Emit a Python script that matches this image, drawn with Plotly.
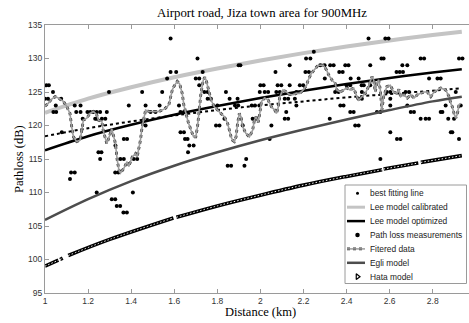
import plotly.graph_objects as go

# ---------------- data ----------------
model_d = [1.0, 1.2, 1.4, 1.6, 1.8, 2.0, 2.2, 2.4, 2.6, 2.8, 2.935]
best_fit_db = [118.4, 119.6, 120.6, 121.5, 122.3, 123.0, 123.6, 124.2, 124.7, 125.2, 125.55]
lee_cal_db = [121.9, 124.0, 125.7, 127.2, 128.5, 129.7, 130.8, 131.8, 132.7, 133.5, 134.0]
lee_opt_db = [116.3, 118.4, 120.1, 121.6, 122.9, 124.1, 125.2, 126.2, 127.1, 127.9, 128.4]
egli_db = [105.9, 109.0, 111.7, 114.0, 116.0, 117.8, 119.4, 120.9, 122.3, 123.6, 124.3]

hata_d = [1.0, 1.062, None, 1.07, 1.082, None, 1.108, 1.3, 1.596, None, 1.61, 1.8, 2.0,
          2.2, 2.4, 2.565, None, 2.572, 2.733, None, 2.745, 2.935]
hata_db = [99.0, 99.9, None, 100.0, 100.2, None, 100.6, 103.0, 106.2, None, 106.3, 108.0, 109.6,
           111.1, 112.4, 113.4, None, 113.5, 114.4, None, 114.5, 115.5]

meas_d = [1.006, 1.018, 1.0, 1.014, 1.037, 1.05, 1.039, 1.052, 1.075, 1.078, 1.116, 1.121, 1.138,
          1.138, 1.165, 1.145, 1.165, 1.175, 1.197, 1.21, 1.225, 1.24, 1.233, 1.24, 1.256, 1.264,
          1.28, 1.287, 1.297, 1.248, 1.262, 1.256, 1.24, 1.31, 1.326, 1.333, 1.349, 1.364, 1.38,
          1.408, 1.326, 1.341, 1.35, 1.366, 1.412, 1.428, 1.366, 1.381, 1.327, 1.389, 1.451,
          1.467, 1.467, 1.49, 1.513, 1.532, 1.544, 1.567, 1.583, 1.609, 1.583, 1.622, 1.629,
          1.645, 1.629, 1.645, 1.65, 1.662, 1.67, 1.69, 1.664, 1.708, 1.732, 1.70, 1.716, 1.716,
          1.74, 1.755, 1.755, 1.77, 1.80, 1.794, 1.81, 1.833, 1.84, 1.857, 1.882, 1.897, 1.894,
          1.899, 1.907, 1.918, 1.848, 1.864, 1.926, 1.934, 1.96, 1.975, 1.995, 1.964, 1.98,
          1.997, 2.02, 2.036, 2.0, 2.015, 2.043, 2.051, 2.07, 2.08, 2.097, 2.074, 2.09, 2.113,
          2.113, 2.129, 2.12, 2.129, 2.16, 2.136, 2.136, 2.167, 2.167, 2.183, 2.199, 2.212,
          2.232, 2.209, 2.225, 2.248, 2.278, 2.298, 2.324, 2.34, 2.299, 2.322, 2.347, 2.363,
          2.366, 2.382, 2.371, 2.386, 2.394, 2.409, 2.40, 2.417, 2.419, 2.417, 2.433, 2.44,
          2.456, 2.456, 2.456, 2.471, 2.47, 2.48, 2.471, 2.502, 2.51, 2.51, 2.541, 2.557, 2.557,
          2.562, 2.572, 2.58, 2.595, 2.587, 2.603, 2.603, 2.603, 2.603, 2.634, 2.65, 2.632,
          2.647, 2.662, 2.659, 2.682, 2.674, 2.69, 2.682, 2.698, 2.713, 2.744, 2.76, 2.744,
          2.767, 2.783, 2.783, 2.822, 2.837, 2.837, 2.845, 2.86, 2.872, 2.884, 2.891, 2.899,
          2.907, 2.922, 2.922, 2.938, 2.93]
meas_db = [126, 126, 124, 124, 125, 123, 122, 122, 124, 119, 112, 113, 113,
           123, 123, 122, 122, 121, 122, 122, 122, 122, 121, 121, 122, 121,
           121, 122, 125, 116, 116, 115, 110, 109, 109, 108, 108, 107, 107,
           110, 113, 113, 115, 115, 115, 115, 118, 118, 117, 123, 125,
           123, 120, 122, 122, 123, 125, 127, 128, 128, 133, 123, 122,
           122, 119, 119, 118, 118, 117, 117, 116, 130, 128, 127, 127, 126,
           125, 125, 124, 124, 123, 120, 120, 121, 125, 124, 123, 123, 124,
           129, 129, 120, 114, 114, 114, 115, 123, 123, 123, 121, 121,
           125, 125, 125, 126, 126, 118, 120, 128, 126, 126, 125, 125, 124,
           121, 121, 122, 124, 124, 129, 126, 125, 123, 126, 126, 130,
           130, 128, 128, 131, 129, 129, 129, 129, 127, 121, 125, 125,
           128, 128, 123, 123, 129, 129, 126, 126, 127, 122, 122, 120,
           120, 127, 124, 124, 126, 126, 125, 133, 129, 126, 122, 122, 115,
           130, 130, 133, 133, 125, 125, 124, 123, 119, 118, 118, 128,
           128, 128, 129, 129, 125, 125, 123, 122, 122, 130, 130, 121,
           121, 121, 127, 127, 127, 122, 122, 123, 121, 119, 119, 121,
           125, 118, 130, 130, 123]

filt_d = [1.0, 1.012, 1.03, 1.047, 1.062, 1.085, 1.10, 1.116, 1.124, 1.132, 1.147, 1.163, 1.171,
          1.178, 1.194, 1.209, 1.225, 1.24, 1.248, 1.264, 1.27, 1.28, 1.287, 1.30, 1.31, 1.318,
          1.327, 1.335, 1.343, 1.35, 1.366, 1.381, 1.389, 1.405, 1.42, 1.428, 1.443, 1.451, 1.459,
          1.467, 1.482, 1.505, 1.529, 1.544, 1.56, 1.575, 1.583, 1.591, 1.598, 1.614, 1.625,
          1.637, 1.645, 1.655, 1.665, 1.678, 1.69, 1.70, 1.708, 1.716, 1.724, 1.735, 1.742,
          1.748, 1.755, 1.763, 1.771, 1.786, 1.80, 1.817, 1.833, 1.848, 1.864, 1.871, 1.879,
          1.887, 1.894, 1.902, 1.91, 1.918, 1.933, 1.949, 1.964, 1.972, 1.98, 1.99, 1.997, 2.005,
          2.02, 2.036, 2.051, 2.067, 2.074, 2.082, 2.09, 2.105, 2.121, 2.136, 2.152, 2.167, 2.183,
          2.199, 2.214, 2.222, 2.237, 2.253, 2.268, 2.292, 2.307, 2.316, 2.332, 2.347, 2.355,
          2.371, 2.386, 2.401, 2.417, 2.433, 2.448, 2.456, 2.471, 2.487, 2.502, 2.518, 2.526,
          2.533, 2.541, 2.549, 2.557, 2.564, 2.572, 2.587, 2.603, 2.619, 2.634, 2.643, 2.651,
          2.667, 2.682, 2.698, 2.713, 2.729, 2.744, 2.76, 2.775, 2.791, 2.806, 2.822, 2.837,
          2.86, 2.876, 2.884, 2.891, 2.899, 2.907, 2.915, 2.922, 2.93]
filt_db = [122.9, 123.2, 123.9, 124.3, 124.1, 123.6, 122.9, 121.8, 119.8, 118.3, 117.6, 117.8, 119.3,
           120.8, 121.1, 121.8, 122.1, 121.6, 120.8, 120.6, 119.3, 118.3, 117.3, 118.5, 119.5, 118.5,
           117.3, 114.9, 113.4, 112.9, 113.6, 114.6, 113.9, 115.3, 115.8, 115.3, 117.8, 119.8, 121.3,
           122.3, 122.1, 122.1, 122.1, 122.3, 122.6, 123.1, 124.3, 125.3, 125.8, 126.6, 126.2,
           124.8, 123.0, 121.5, 120.5, 119.3, 118.3, 118.3, 119.8, 122.3, 124.8, 126.8, 127.2,
           126.8, 125.8, 124.8, 123.8, 122.8, 122.3, 121.8, 121.3, 120.3, 118.3, 117.8, 117.6,
           118.3, 120.3, 121.8, 121.3, 119.8, 118.8, 118.3, 119.3, 120.8, 121.3, 120.5, 121.8, 123.6,
           124.1, 123.8, 122.8, 122.3, 121.8, 122.6, 124.3, 125.3, 125.0, 124.6, 124.6, 124.8, 124.8,
           125.3, 126.0, 126.8, 127.8, 128.5, 129.0, 129.0, 128.3, 127.6, 126.8, 126.3, 125.3,
           125.0, 125.3, 125.6, 125.3, 125.6, 124.3, 123.8, 124.3, 124.8, 125.8, 127.3, 126.8,
           125.0, 126.3, 126.8, 125.3, 122.3, 124.3, 125.8, 126.0, 125.0, 124.8, 125.4, 124.3,
           124.6, 124.1, 124.6, 124.1, 124.6, 124.8, 125.0, 125.0, 124.3, 125.0, 125.3, 125.6,
           125.3, 124.3, 123.3, 122.8, 121.8, 121.1, 121.8, 123.1, 123.3]

x_ticks = [1, 1.2, 1.4, 1.6, 1.8, 2, 2.2, 2.4, 2.6, 2.8]
x_tick_labels = ["1", "1.2", "1.4", "1.6", "1.8", "2", "2.2", "2.4", "2.6", "2.8"]
y_ticks = [95, 100, 105, 110, 115, 120, 125, 130, 135]
legend_labels = ["best fitting line", "Lee model calibrated", "Lee model optimized",
                 "Path loss measurements", "Fitered data", "Egli model", "Hata model"]

title_text = "Airport road, Jiza town area for 900MHz"
x_title = "Distance (km)"
y_title = "Pathloss (dB)"

# ---------------- figure ----------------
W, H = 469, 323
L, R, T, B = 45, 0, 25, 30
SERIF = "Liberation Serif, Times New Roman, serif"
SANS = "Liberation Sans, Arial, sans-serif"

fig = go.Figure()

fig.add_trace(go.Scatter(x=model_d, y=best_fit_db, mode="lines", line_shape="spline",
                         line=dict(color="black", width=2, dash="dot"), showlegend=False))
fig.add_trace(go.Scatter(x=model_d, y=lee_cal_db, mode="lines", line_shape="spline",
                         line=dict(color="#c4c4c4", width=4), showlegend=False))
fig.add_trace(go.Scatter(x=model_d, y=lee_opt_db, mode="lines", line_shape="spline",
                         line=dict(color="black", width=2.5), showlegend=False))
fig.add_trace(go.Scatter(x=meas_d, y=meas_db, mode="markers",
                         marker=dict(color="black", size=4, line=dict(width=0)), showlegend=False))
fig.add_trace(go.Scatter(x=filt_d, y=filt_db, mode="lines",
                         line=dict(color="#333333", width=2.8, dash="dot"), showlegend=False))
fig.add_trace(go.Scatter(x=filt_d, y=filt_db, mode="lines",
                         line=dict(color="#9c9c9c", width=1.6), showlegend=False))
fig.add_trace(go.Scatter(x=model_d, y=egli_db, mode="lines", line_shape="spline",
                         line=dict(color="#4d4d4d", width=2.5), showlegend=False))
fig.add_trace(go.Scatter(x=hata_d, y=hata_db, mode="lines", line_shape="spline",
                         line=dict(color="black", width=3.6), showlegend=False))
fig.add_trace(go.Scatter(x=hata_d, y=hata_db, mode="lines", line_shape="spline",
                         line=dict(color="white", width=1, dash="1.5px,2px"), showlegend=False))

# ------------- legend drawn on a pixel overlay axis -------------
def px2(xs, ys, **kw):
    fig.add_trace(go.Scatter(x=xs, y=ys, xaxis="x2", yaxis="y2", showlegend=False,
                             hoverinfo="skip", **kw))

bx0, bx1, by0, by1 = 345, 466.5, 185, 283.5
px2([bx0, bx1, bx1, bx0, bx0], [by0, by0, by1, by1, by0], mode="lines", fill="toself",
    fillcolor="white", line=dict(color="#9a9a9a", width=1))
rows = [193.3 + 13.9 * i for i in range(7)]
sx0, sx1, sxc = 347, 365, 357.5
px2([sxc], [rows[0]], mode="markers", marker=dict(color="black", size=3))
px2([sx0, sx1], [rows[1]] * 2, mode="lines", line=dict(color="#c4c4c4", width=3))
px2([sx0, sx1], [rows[2]] * 2, mode="lines", line=dict(color="black", width=2.5))
px2([sxc], [rows[3]], mode="markers", marker=dict(color="black", size=4.5))
px2([sx0, sx1], [rows[4]] * 2, mode="lines", line=dict(color="#333333", width=2.8, dash="dot"))
px2([sx0, sx1], [rows[4]] * 2, mode="lines", line=dict(color="#9c9c9c", width=1.5))
px2([sx0, sx1], [rows[5]] * 2, mode="lines", line=dict(color="#4d4d4d", width=2.5))
px2([sxc], [rows[6]], mode="markers",
    marker=dict(color="black", size=5, symbol="triangle-right-open", line=dict(width=1.2)))

annotations = []
for lab, yy in zip(legend_labels, rows):
    annotations.append(dict(x=368, y=yy, xref="x2", yref="y2", text=lab, showarrow=False,
                            xanchor="left", yanchor="middle",
                            font=dict(family=SANS, size=8.4, color="#222222")))

def pxx(p):
    return (p - L) / (W - L - R)

def pxy(p):
    return (H - B - p) / (H - T - B)

annotations.append(dict(x=pxx(261.5), y=pxy(13.5), xref="paper", yref="paper", text=title_text,
                        showarrow=False, xanchor="center", yanchor="middle",
                        font=dict(family=SERIF, size=12.8, color="black")))
annotations.append(dict(x=pxx(260), y=pxy(312), xref="paper", yref="paper", text=x_title,
                        showarrow=False, xanchor="center", yanchor="middle",
                        font=dict(family=SERIF, size=12.5, color="black")))
annotations.append(dict(x=pxx(19), y=pxy(159), xref="paper", yref="paper", text=y_title,
                        showarrow=False, xanchor="center", yanchor="middle", textangle=-90,
                        font=dict(family=SERIF, size=12.5, color="black")))

axis_col = "#9a9a9a"
fig.update_layout(
    width=W, height=H,
    margin=dict(l=L, r=R, t=T, b=B, pad=0),
    paper_bgcolor="white", plot_bgcolor="white",
    showlegend=False,
    annotations=annotations,
    xaxis=dict(range=[1, 1 + (W - L - R) / 215.4], tickvals=x_ticks, ticktext=x_tick_labels,
               ticks="inside", ticklen=4, tickcolor=axis_col, showline=True, linecolor=axis_col,
               linewidth=1, mirror="ticks", showgrid=False, zeroline=False,
               tickfont=dict(family=SANS, size=8.5, color="#333333")),
    yaxis=dict(range=[95, 135], tickvals=y_ticks, ticks="inside", ticklen=4, tickcolor=axis_col,
               showline=True, linecolor=axis_col, linewidth=1, mirror=False, showgrid=False,
               zeroline=False, tickfont=dict(family=SANS, size=8.5, color="#333333")),
    xaxis2=dict(overlaying="x", range=[L, W - R], visible=False, anchor="y2"),
    yaxis2=dict(overlaying="y", range=[H - B, T], visible=False, anchor="x2"),
)

fig.write_html("out.html", config={"displayModeBar": False},
               post_script="document.body.style.margin='0';document.body.style.overflow='hidden';")
